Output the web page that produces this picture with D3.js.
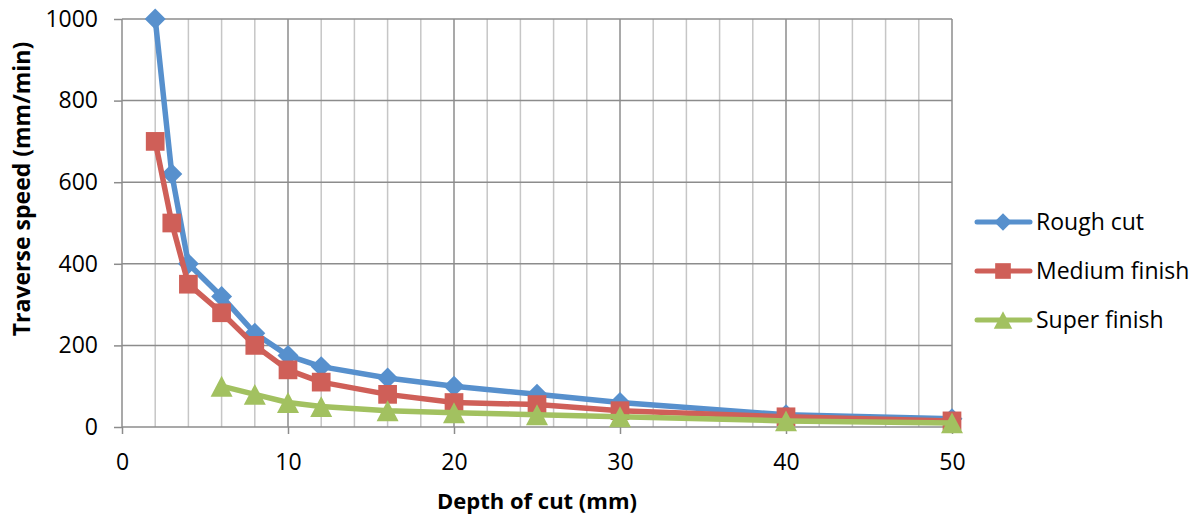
<!DOCTYPE html>
<html>
<head>
<meta charset="utf-8">
<script src="https://cdn.jsdelivr.net/npm/d3@7"></script>
<style>
  body { margin: 0; background: #fff; }
  svg text { font-family: "Open Sans", sans-serif; fill: #000; }
  .grid-minor { stroke: #c6c6c6; stroke-width: 1.5px; }
  .grid-major { stroke: #8c8c8c; stroke-width: 1.5px; }
</style>
</head>
<body>
<svg id="chart" width="1200" height="518"></svg>
<script>
  // depth of cut (mm) and traverse speed (mm/min) for each series
  const roughX = [2, 3, 4, 6, 8, 10, 12, 16, 20, 25, 30, 40, 50];
  const roughY = [1000, 620, 400, 320, 230, 175, 148, 120, 100, 80, 60, 30, 20];
  const mediumX = [2, 3, 4, 6, 8, 10, 12, 16, 20, 25, 30, 40, 50];
  const mediumY = [700, 500, 350, 280, 200, 140, 110, 80, 60, 55, 40, 25, 15];
  const superX = [6, 8, 10, 12, 16, 20, 25, 30, 40, 50];
  const superY = [100, 80, 60, 50, 40, 35, 30, 25, 15, 10];

  const seriesNames = ['Rough cut', 'Medium finish', 'Super finish'];
  const seriesColors = ['#5790cd', '#cf5f58', '#a2c160'];

  const xTicks = [0, 10, 20, 30, 40, 50];
  const xMinor = d3.range(0, 51, 2);
  const yTicks = [0, 200, 400, 600, 800, 1000];

  const svg = d3.select('#chart');
  const x = d3.scaleLinear().domain([0, 50]).range([122, 952]);
  const y = d3.scaleLinear().domain([0, 1000]).range([427, 19]);

  // marker shapes: diamond is a square turned 45deg, triangle a bit flatter than d3's
  const diamond = {
    draw(ctx, size) {
      const r = Math.sqrt(size / 2);
      ctx.moveTo(0, -r); ctx.lineTo(r, 0); ctx.lineTo(0, r); ctx.lineTo(-r, 0); ctx.closePath();
    }
  };
  const triangle = {
    draw(ctx, size) {
      const w = Math.sqrt(size * 2.2) / 2, h = w * 0.95;
      ctx.moveTo(0, -h); ctx.lineTo(w, h); ctx.lineTo(-w, h); ctx.closePath();
    }
  };
  const seriesShapes = [diamond, d3.symbolSquare, triangle];
  const markerSizes = [220, 350, 220];

  // gridlines
  const grid = svg.append('g');
  grid.selectAll('.grid-minor').data(xMinor.filter(d => d % 10 !== 0)).join('line')
    .attr('class', 'grid-minor')
    .attr('x1', d => x(d)).attr('x2', d => x(d))
    .attr('y1', y(1000)).attr('y2', y(0));
  grid.selectAll('.vmaj').data(xTicks.filter(d => d > 0)).join('line')
    .attr('class', 'grid-major vmaj')
    .attr('x1', d => x(d)).attr('x2', d => x(d))
    .attr('y1', y(1000)).attr('y2', y(0));
  grid.selectAll('.hmaj').data(yTicks.filter(d => d > 0)).join('line')
    .attr('class', 'grid-major hmaj')
    .attr('x1', x(0)).attr('x2', x(50))
    .attr('y1', d => y(d)).attr('y2', d => y(d));

  // axes
  const xAxis = svg.append('g').attr('transform', `translate(0,${y(0)})`)
    .call(d3.axisBottom(x).tickValues(xTicks).tickSize(7).tickPadding(20));
  const yAxis = svg.append('g').attr('transform', `translate(${x(0)},0)`)
    .call(d3.axisLeft(y).tickValues(yTicks).tickFormat(d3.format('d')).tickSize(8).tickPadding(16));
  [xAxis, yAxis].forEach(a => {
    a.select('.domain').attr('stroke', '#8c8c8c').attr('stroke-width', 1.5);
    a.selectAll('.tick line').attr('stroke', '#8c8c8c').attr('stroke-width', 1.5);
    a.selectAll('.tick text').style('font-size', '23px').attr('fill', '#000');
  });
  xAxis.select('.domain').attr('d', `M${x(0)},0H${x(50)}`);
  yAxis.select('.domain').attr('d', `M0,${y(0)}V${y(1000)}`);

  // titles
  svg.append('text')
    .attr('x', 537).attr('y', 509)
    .attr('text-anchor', 'middle')
    .style('font-size', '22px').style('font-weight', 'bold')
    .text('Depth of cut (mm)');
  svg.append('text')
    .attr('transform', 'translate(30,189) rotate(-90)')
    .attr('text-anchor', 'middle')
    .style('font-size', '23px').style('font-weight', 'bold')
    .text('Traverse speed (mm/min)');

  // series
  const series = [
    {xs: roughX, ys: roughY},
    {xs: mediumX, ys: mediumY},
    {xs: superX, ys: superY}
  ];
  const line = d3.line().x(d => x(d[0])).y(d => y(d[1]));

  series.forEach((s, i) => {
    const pts = d3.zip(s.xs, s.ys);
    const g = svg.append('g');
    g.append('path').datum(pts)
      .attr('d', line)
      .attr('fill', 'none')
      .attr('stroke', seriesColors[i])
      .attr('stroke-width', 5.5)
      .attr('stroke-linejoin', 'round');
    g.selectAll('path.mk').data(pts).join('path')
      .attr('class', 'mk')
      .attr('transform', d => `translate(${x(d[0])},${y(d[1])})`)
      .attr('d', d3.symbol().type(seriesShapes[i]).size(markerSizes[i]))
      .attr('fill', seriesColors[i]);
  });

  // legend
  const legend = svg.append('g');
  seriesNames.forEach((name, i) => {
    const ly = 222 + i * 49;
    const lg = legend.append('g').attr('transform', `translate(0,${ly})`);
    lg.append('line')
      .attr('x1', 977).attr('x2', 1030)
      .attr('stroke', seriesColors[i]).attr('stroke-width', 5)
      .attr('stroke-linecap', 'round');
    lg.append('path')
      .attr('transform', 'translate(1003,0)')
      .attr('d', d3.symbol().type(seriesShapes[i]).size(markerSizes[i] * 0.7))
      .attr('fill', seriesColors[i]);
    lg.append('text')
      .attr('x', 1036).attr('dy', '0.35em')
      .style('font-size', '23px')
      .text(name);
  });
</script>
</body>
</html>
